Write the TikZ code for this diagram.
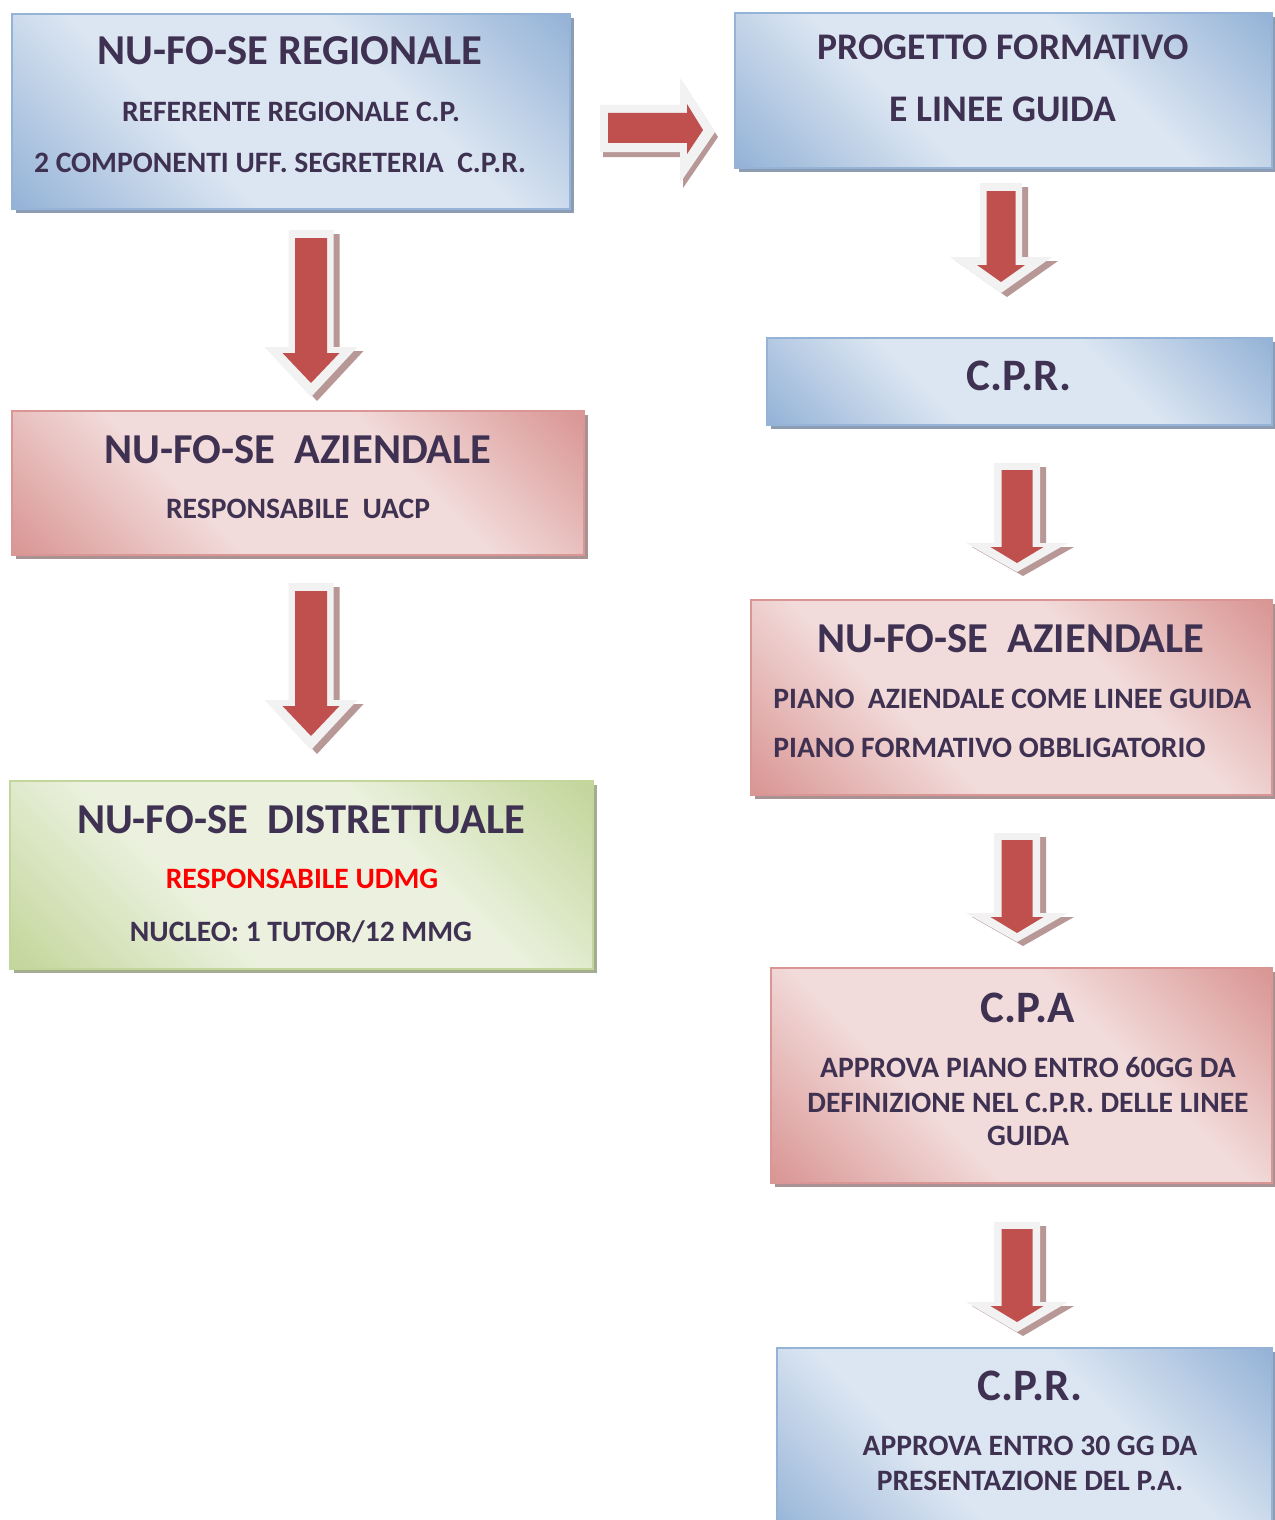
\documentclass[tikz,border=0pt]{standalone}
\usepackage{fontspec}
\setmainfont{Carlito}
\definecolor{txt}{HTML}{3F3151}
\definecolor{bdark}{HTML}{95B3D7}
\definecolor{blight}{HTML}{DCE6F2}
\definecolor{bshadow}{HTML}{8C9CB2}
\definecolor{pdark}{HTML}{D99694}
\definecolor{plight}{HTML}{F2DCDB}
\definecolor{pshadow}{HTML}{A99293}
\definecolor{gdark}{HTML}{C3D69B}
\definecolor{glight}{HTML}{EBF1DE}
\definecolor{gshadow}{HTML}{A4AD92}
\definecolor{arred}{HTML}{C0504D}
\definecolor{arwhite}{HTML}{F2F2F2}
\definecolor{arshadow}{HTML}{B89797}
\pgfdeclareverticalshading{blueshade}{100bp}{color(0bp)=(bdark); color(15bp)=(bdark); color(38bp)=(blight); color(62bp)=(blight); color(85bp)=(bdark); color(100bp)=(bdark)}
\pgfdeclareverticalshading{pinkshade}{100bp}{color(0bp)=(pdark); color(15bp)=(pdark); color(38bp)=(plight); color(62bp)=(plight); color(85bp)=(pdark); color(100bp)=(pdark)}
\pgfdeclareverticalshading{greenshade}{100bp}{color(0bp)=(gdark); color(15bp)=(gdark); color(38bp)=(glight); color(62bp)=(glight); color(85bp)=(gdark); color(100bp)=(gdark)}
\tikzset{
  ttl/.style={font=\fontsize{21.3}{25}\selectfont\bfseries, text=txt, anchor=base, inner sep=0pt},
  sbt/.style={font=\fontsize{14.8}{17}\selectfont\bfseries, text=txt, anchor=base, inner sep=0pt},
  big/.style={font=\fontsize{22.5}{26}\selectfont\bfseries},
  bluebox/.style={draw=bdark, line width=1pt, shading=blueshade, shading angle=-45},
  pinkbox/.style={draw=pdark, line width=1pt, shading=pinkshade, shading angle=-45},
  greenbox/.style={draw=gdark, line width=1pt, shading=greenshade, shading angle=-45},
}
% down arrow outline: top, shaft half, head base, head half, tip
\newcommand{\darr}[5]{(-#2,#1) -- (#2,#1) -- (#2,#3) -- (#4,#3) -- (0,#5) -- (-#4,#3) -- (-#2,#3) -- cycle}
% full down arrow: cx, outer(top,sh,base,hh,tip), inner(top,sh,base,hh,tip)
\newcommand{\downarrowbox}[3]{%
  \begin{scope}[shift={(#1,0)}]
    \begin{scope}[shift={(6,4)}]\fill[arshadow] \darr#2;\end{scope}
    \fill[arwhite] \darr#2;
    \fill[arred] \darr#3;
  \end{scope}}
\newcommand{\shbox}[6]{% style, shadow colour, x1,y1,x2,y2
  \fill[#2] (#3+4,#4+4) rectangle (#5+4,#6+4);
  \path[#1] (#3,#4) rectangle (#5,#6);}
\begin{document}
\begin{tikzpicture}[x=0.5pt,y=-0.5pt]
\useasboundingbox (0,0) rectangle (1274,1520);
\fill[white] (0,0) rectangle (1274,1520);

% ---------- boxes ----------
\shbox{bluebox}{bshadow}{12}{14}{570}{209}
\shbox{pinkbox}{pshadow}{12}{411}{584}{555}
\shbox{greenbox}{gshadow}{10}{781}{593}{969}
\shbox{bluebox}{bshadow}{735}{13}{1272}{168}
\shbox{bluebox}{bshadow}{767}{338}{1272}{425}
\shbox{pinkbox}{pshadow}{751}{600}{1272}{795}
\shbox{pinkbox}{pshadow}{771}{968}{1272}{1183}
\shbox{bluebox}{bshadow}{777}{1348}{1272}{1540}

% ---------- arrows ----------
\downarrowbox{311}{{230}{22.5}{347}{46.5}{397}}{{238}{16}{353}{28.5}{383}}
\downarrowbox{311}{{583}{22.5}{700}{46.5}{750}}{{591}{16}{706}{28.5}{736}}
\downarrowbox{1001}{{183}{21}{257}{51}{293}}{{191}{14.5}{265}{24}{282}}
\downarrowbox{1017}{{463}{23}{543}{51}{572}}{{470}{15.5}{547}{26.5}{563}}
\downarrowbox{1017}{{833}{23}{913}{51}{942}}{{840}{15.5}{917}{26.5}{933}}
\downarrowbox{1017}{{1222}{23}{1302}{51}{1332}}{{1229}{15.5}{1306}{26.5}{1322}}
% right arrow
\fill[arshadow] (603,110) -- (683,110) -- (683,83) -- (718,137) -- (683,188) -- (683,157) -- (603,157) -- cycle;
\fill[arwhite] (600,105) -- (680,105) -- (680,78) -- (715,132) -- (680,183) -- (680,152) -- (600,152) -- cycle;
\fill[arred] (608,113) -- (687,113) -- (687,104) -- (703,130) -- (687,154) -- (687,143) -- (608,143) -- cycle;

% ---------- texts ----------
\node[ttl] (t1) at (290,65) {NU-FO-SE REGIONALE};
\node[sbt] (t1a) at (291,121) {REFERENTE REGIONALE C.P.};
\node[sbt] (t1b) at (280,172) {2 COMPONENTI UFF. SEGRETERIA\ \ C.P.R.};

\node[ttl] (t2) at (298,463) {NU-FO-SE\ \ AZIENDALE};
\node[sbt] (t2a) at (298,518) {RESPONSABILE\ \ UACP};

\node[ttl] (t3) at (301,833) {NU-FO-SE\ \ DISTRETTUALE};
\node[sbt, text=red] (t3a) at (302,888) {RESPONSABILE UDMG};
\node[sbt] (t3b) at (301,941) {NUCLEO: 1 TUTOR/12 MMG};

\node[ttl, font=\fontsize{18.8}{22}\selectfont\bfseries] (t4) at (1003,60) {PROGETTO FORMATIVO};
\node[ttl, font=\fontsize{18.8}{22}\selectfont\bfseries] (t4a) at (1003,122) {E LINEE GUIDA};

\node[ttl, big] (t5) at (1019,390) {C.P.R.};

\node[ttl] (t6) at (1011,652) {NU-FO-SE\ \ AZIENDALE};
\node[sbt, anchor=base west] (t6a) at (773,708) {PIANO\ \ AZIENDALE COME LINEE GUIDA};
\node[sbt, anchor=base west] (t6b) at (773,757) {PIANO FORMATIVO OBBLIGATORIO};

\node[ttl, big] (t7) at (1028,1022) {C.P.A};
\node[sbt] (t7a) at (1028,1077) {APPROVA PIANO ENTRO 60GG DA};
\node[sbt] (t7b) at (1028,1112) {DEFINIZIONE NEL C.P.R. DELLE LINEE};
\node[sbt] (t7c) at (1028,1145) {GUIDA};

\node[ttl, big] (t8) at (1030,1400) {C.P.R.};
\node[sbt] (t8a) at (1030,1455) {APPROVA ENTRO 30 GG DA};
\node[sbt] (t8b) at (1030,1490) {PRESENTAZIONE DEL P.A.};
\end{tikzpicture}
\end{document}
